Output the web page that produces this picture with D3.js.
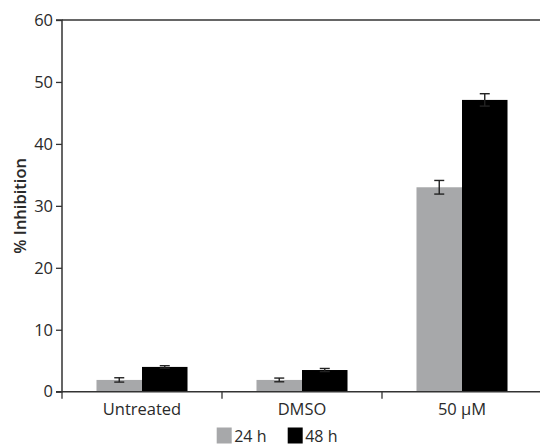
<!DOCTYPE html>
<html><head><meta charset="utf-8">
<script src="https://cdn.jsdelivr.net/npm/d3@7"></script>
<style>body{margin:0;background:#fff;} svg{display:block;font-family:"Open Sans",sans-serif;}</style>
</head><body>
<svg id="chart" width="540" height="447"></svg>
<script>
const categories = ["Untreated", "DMSO", "50 µM"];
const series = ["24 h", "48 h"];
const values24 = [1.9, 1.9, 33.0];
const errors24 = [0.35, 0.3, 1.1];
const values48 = [4.0, 3.5, 47.1];
const errors48 = [0.2, 0.25, 1.0];
const yTicks = [0, 10, 20, 30, 40, 50, 60];
const colors = ["#a7a8aa", "#000000"];

(function () {
const svg = d3.select("#chart");
const pLeft = 62, pRight = 542, pTop = 20, pBottom = 391.7;
const axisColor = "#333";
const textColor = "#2a2a2a";
const fs = "16.5px";

const x0 = d3.scaleBand().domain(categories).range([pLeft, pRight]).paddingInner(0).paddingOuter(0);
const x1 = d3.scaleBand().domain(series).range([0, x0.bandwidth()]).paddingInner(0).paddingOuter(0.758);
const y = d3.scaleLinear().domain([0, 60]).range([pBottom, pTop]);

const data = [];
categories.forEach((c, i) => {
  data.push({cat: c, s: series[0], v: values24[i], e: errors24[i], col: colors[0]});
  data.push({cat: c, s: series[1], v: values48[i], e: errors48[i], col: colors[1]});
});

// bars
svg.append("g").selectAll("rect").data(data).join("rect")
  .attr("x", d => x0(d.cat) + x1(d.s))
  .attr("y", d => y(d.v))
  .attr("width", x1.bandwidth())
  .attr("height", d => y(0) - y(d.v))
  .attr("fill", d => d.col);

// error bars
const capW = 10;
const eg = svg.append("g").attr("stroke", "#222").attr("stroke-width", 1.4);
data.forEach(d => {
  const cx = x0(d.cat) + x1(d.s) + x1.bandwidth() / 2;
  eg.append("line").attr("x1", cx).attr("x2", cx).attr("y1", y(d.v + d.e)).attr("y2", y(d.v - d.e));
  eg.append("line").attr("x1", cx - capW/2).attr("x2", cx + capW/2).attr("y1", y(d.v + d.e)).attr("y2", y(d.v + d.e));
  eg.append("line").attr("x1", cx - capW/2).attr("x2", cx + capW/2).attr("y1", y(d.v - d.e)).attr("y2", y(d.v - d.e));
});

// y axis
const yAxis = d3.axisLeft(y).tickValues(yTicks).tickSize(6).tickPadding(3);
const gy = svg.append("g").attr("transform", `translate(${pLeft},0)`).call(yAxis);
gy.select(".domain").attr("stroke", axisColor).attr("stroke-width", 1.5).attr("d", `M-6,${y(60)}H0V${y(0)}H-6`);
gy.selectAll(".tick line").attr("stroke", axisColor).attr("stroke-width", 1.3);
gy.selectAll(".tick text").attr("fill", textColor).style("font-size", fs).style("font-family", "'Open Sans',sans-serif");

// top line
svg.append("line").attr("x1", pLeft).attr("x2", 540).attr("y1", y(60)).attr("y2", y(60))
  .attr("stroke", axisColor).attr("stroke-width", 1.3);

// x axis
svg.append("line").attr("x1", pLeft).attr("x2", 540).attr("y1", y(0)).attr("y2", y(0))
  .attr("stroke", axisColor).attr("stroke-width", 1.5);
const boundaries = categories.map(c => x0(c));
svg.append("g").selectAll("line").data(boundaries).join("line")
  .attr("x1", d => d).attr("x2", d => d).attr("y1", y(0)).attr("y2", y(0) + 7)
  .attr("stroke", axisColor).attr("stroke-width", 1.3);
svg.append("g").selectAll("text").data(categories).join("text")
  .attr("x", d => x0(d) + x0.bandwidth() / 2)
  .attr("y", 415)
  .attr("text-anchor", "middle")
  .attr("fill", textColor)
  .style("font-size", fs)
  .text(d => d);

// y title
svg.append("text")
  .attr("transform", `translate(25.5,${(y(0)+y(60))/2}) rotate(-90)`)
  .attr("text-anchor", "middle")
  .attr("fill", textColor)
  .style("font-size", "16.5px")
  .style("font-weight", "600")
  .text("% Inhibition");

// legend
const legX = [216.7, 287.7];
const lg = svg.append("g");
series.forEach((s, i) => {
  lg.append("rect").attr("x", legX[i]).attr("y", 427.5).attr("width", 15).attr("height", 16).attr("fill", colors[i]);
  lg.append("text").attr("x", legX[i] + 17.5).attr("y", 441.5).attr("fill", textColor)
    .style("font-size", "16px").text(s);
});
})();
</script>
</body></html>
